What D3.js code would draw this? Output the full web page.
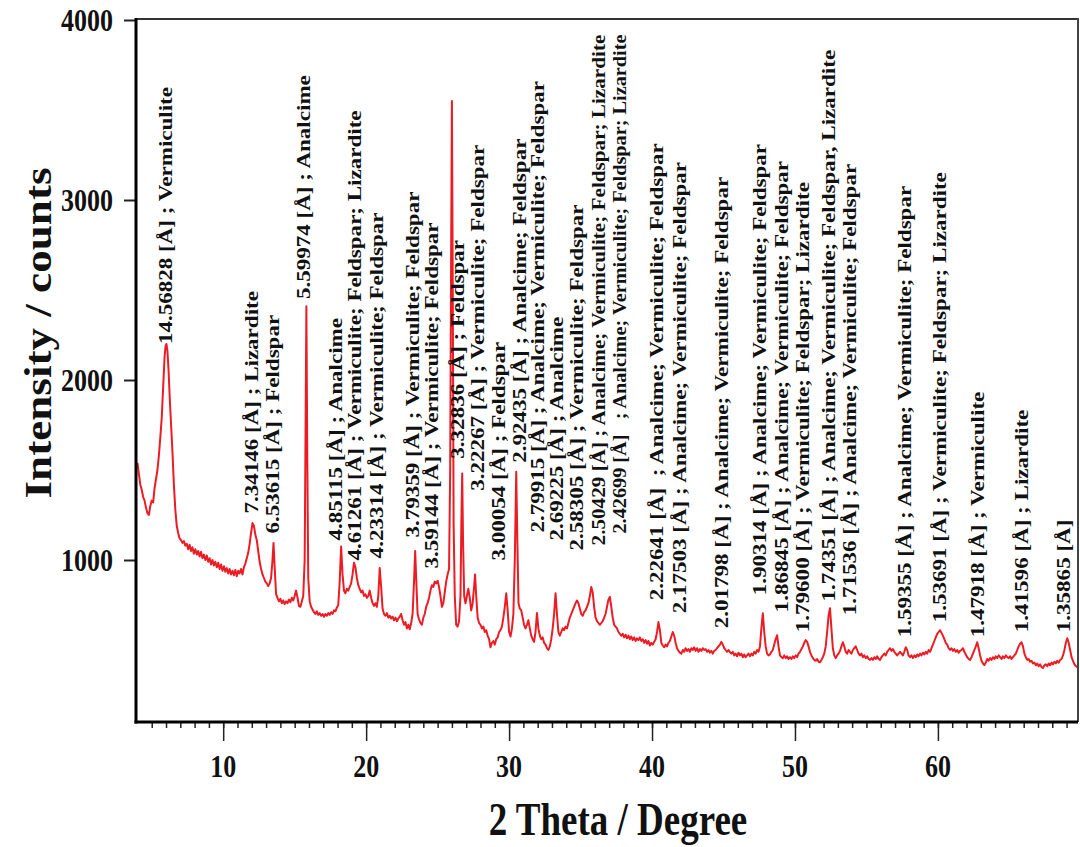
<!DOCTYPE html>
<html>
<head>
<meta charset="utf-8">
<script src="https://cdn.jsdelivr.net/npm/d3@7"></script>
<style>
  body { margin: 0; background: #fff; }
  svg text { font-family: "Liberation Serif", "Times New Roman", serif; font-weight: bold; fill: #111; }
</style>
</head>
<body>
<svg id="chart" width="1080" height="847"></svg>
<script>
// XRD pattern: [2theta (deg), intensity (counts)]
const xrdPattern = [
  [4.00,1540],[4.10,1480],[4.20,1420],[4.30,1390],[4.40,1350],[4.50,1330],[4.60,1290],[4.70,1260],[4.80,1250],[4.90,1300],
  [5.00,1330],[5.10,1320],[5.20,1400],[5.30,1450],[5.40,1500],[5.50,1580],[5.60,1680],[5.70,1790],[5.80,1960],[5.90,2130],
  [5.97,2190],[6.03,2200],[6.10,2160],[6.18,2050],[6.26,1900],[6.35,1760],[6.45,1600],[6.55,1420],[6.65,1280],[6.75,1190],
  [6.85,1150],[6.95,1120],[7.05,1110],[7.15,1095],[7.25,1105],[7.35,1080],[7.45,1090],
  [7.55,1060],[7.65,1085],[7.75,1050],[7.85,1070],[7.95,1035],[8.05,1060],[8.15,1030],[8.25,1050],[8.35,1020],[8.45,1045],
  [8.55,1010],[8.65,1030],[8.75,1000],[8.85,1025],[8.95,990],[9.05,1010],[9.15,975],[9.25,1000],[9.35,970],[9.45,990],
  [9.55,960],[9.65,985],[9.75,950],[9.85,975],[9.95,940],[10.05,965],[10.15,935],[10.25,955],[10.35,925],[10.45,950],
  [10.55,920],[10.65,940],[10.75,915],[10.85,945],[10.95,910],[11.05,940],[11.15,925],[11.25,950],[11.35,920],[11.45,960],
  [11.55,980],[11.65,1010],[11.75,1040],[11.85,1090],[11.95,1150],[12.05,1205],[12.15,1190],[12.25,1140],[12.35,1110],[12.45,1050],
  [12.55,990],[12.65,950],[12.75,920],[12.85,900],[12.95,880],[13.05,870],[13.15,855],[13.25,870],[13.35,900],[13.45,1000],
  [13.52,1095],[13.60,960],[13.70,810],[13.80,790],[13.90,770],[14.00,785],[14.10,760],[14.20,775],[14.30,755],[14.40,770],
  [14.50,760],[14.60,780],[14.70,765],[14.80,790],[14.90,775],[15.00,800],[15.10,830],[15.20,790],[15.30,745],[15.40,740],
  [15.50,770],[15.60,800],[15.70,1000],[15.76,1700],[15.82,2410],[15.88,1600],[15.95,900],[16.05,770],[16.15,740],[16.25,725],
  [16.35,710],[16.45,700],[16.55,715],[16.65,695],[16.75,705],[16.85,690],[16.95,700],[17.05,685],[17.15,700],[17.25,690],
  [17.35,705],[17.45,695],[17.55,710],[17.65,700],[17.75,720],[17.85,715],[17.95,735],[18.05,750],[18.15,880],[18.25,1075],
  [18.35,920],[18.45,830],[18.55,815],[18.65,840],[18.75,830],[18.85,850],[18.95,870],[19.05,920],[19.15,985],[19.25,960],
  [19.35,900],[19.45,860],[19.55,840],[19.65,820],[19.75,830],[19.85,800],[19.95,810],[20.05,790],[20.15,800],[20.25,830],
  [20.35,790],[20.45,760],[20.55,745],[20.65,760],[20.75,740],[20.85,800],[20.95,955],[21.05,850],[21.15,730],[21.25,700],
  [21.35,690],[21.45,705],[21.55,680],[21.65,690],[21.75,675],[21.85,685],[21.95,665],[22.05,680],[22.15,660],[22.25,675],
  [22.35,685],[22.45,700],[22.55,665],[22.65,640],[22.75,655],[22.85,620],[22.95,640],[23.05,615],[23.15,650],[23.25,700],
  [23.35,880],[23.43,1050],[23.50,900],[23.60,700],[23.70,670],[23.80,650],[23.90,640],[24.00,680],[24.10,700],[24.20,740],
  [24.30,760],[24.40,790],[24.50,830],[24.60,860],[24.70,850],[24.80,880],[24.90,870],[25.00,885],[25.10,850],[25.20,800],
  [25.30,740],[25.40,760],[25.50,820],[25.60,880],[25.70,920],[25.80,950],[25.88,1500],[25.94,2600],[26.00,3550],[26.06,2500],
  [26.12,1200],[26.20,800],[26.30,640],[26.40,630],[26.50,660],[26.60,800],[26.66,1200],[26.72,1480],[26.78,1100],[26.86,800],
  [26.95,760],[27.05,800],[27.15,840],[27.25,790],[27.35,720],[27.45,760],[27.55,850],[27.62,920],[27.70,800],[27.80,680],
  [27.90,650],[28.00,640],[28.10,620],[28.20,630],[28.30,600],[28.40,610],[28.50,580],[28.60,560],[28.70,515],[28.80,540],
  [28.90,550],[29.00,530],[29.10,560],[29.20,570],[29.30,600],[29.40,610],[29.50,630],[29.60,680],[29.70,740],[29.80,815],
  [29.90,720],[30.00,600],[30.10,575],[30.20,620],[30.30,700],[30.40,1000],[30.50,1490],[30.58,1100],[30.66,760],[30.75,730],
  [30.85,720],[30.95,680],[31.05,640],[31.15,620],[31.25,640],[31.35,665],[31.45,620],[31.55,580],[31.65,560],[31.75,545],
  [31.85,600],[31.95,705],[32.05,620],[32.15,580],[32.25,560],[32.35,570],[32.45,540],[32.55,530],[32.65,510],[32.75,500],
  [32.85,520],[32.95,560],[33.05,620],[33.15,700],[33.25,815],[33.35,700],[33.45,600],[33.55,580],[33.65,600],[33.75,620],
  [33.85,610],[33.95,630],[34.05,620],[34.15,650],[34.25,680],[34.35,700],[34.45,720],[34.55,740],[34.65,760],[34.75,775],
  [34.85,760],[34.95,730],[35.05,700],[35.15,690],[35.25,710],[35.35,720],[35.45,740],[35.55,760],[35.65,800],[35.75,850],
  [35.85,820],[35.95,740],[36.05,680],[36.15,660],[36.25,650],[36.35,640],[36.45,650],[36.55,660],[36.65,680],[36.75,700],
  [36.85,740],[36.95,780],[37.05,795],[37.15,740],[37.25,680],[37.35,640],[37.45,630],[37.55,620],[37.65,600],[37.75,590],
  [37.85,580],[37.95,590],[38.05,570],[38.15,585],[38.25,565],[38.35,580],[38.45,560],[38.55,575],[38.65,555],[38.75,570],
  [38.85,550],[38.95,565],[39.05,555],[39.15,570],[39.25,550],[39.35,560],[39.45,540],[39.55,555],[39.65,535],[39.75,550],
  [39.85,525],[39.95,540],[40.05,530],[40.15,545],[40.25,560],[40.35,600],[40.45,655],[40.55,610],[40.65,540],[40.75,525],
  [40.85,515],[40.95,530],[41.05,520],[41.15,540],[41.25,550],[41.35,575],[41.45,600],[41.55,580],[41.65,540],[41.75,510],
  [41.85,495],[41.95,485],[42.05,480],[42.15,500],[42.25,490],[42.35,510],[42.45,495],[42.55,505],[42.65,490],[42.75,510],
  [42.85,500],[42.95,515],[43.05,495],[43.15,510],[43.25,490],[43.35,505],[43.45,495],[43.55,510],[43.65,500],[43.75,505],
  [43.85,490],[43.95,500],[44.05,485],[44.15,495],[44.25,480],[44.35,495],[44.45,500],[44.55,510],[44.65,520],[44.75,530],
  [44.85,545],[44.95,530],[45.05,510],[45.15,500],[45.25,490],[45.35,500],[45.45,488],[45.55,480],[45.65,490],[45.75,470],
  [45.85,480],[45.95,465],[46.05,485],[46.15,470],[46.25,480],[46.35,460],[46.45,475],[46.55,460],[46.65,470],[46.75,480],
  [46.85,465],[46.95,480],[47.05,470],[47.15,490],[47.25,480],[47.35,500],[47.45,490],[47.55,520],[47.65,620],[47.75,704],
  [47.85,600],[47.95,520],[48.05,480],[48.15,470],[48.25,475],[48.35,490],[48.45,500],[48.55,530],[48.65,560],[48.75,582],
  [48.85,520],[48.95,470],[49.05,460],[49.15,455],[49.25,470],[49.35,455],[49.45,465],[49.55,450],[49.65,460],[49.75,450],
  [49.85,465],[49.95,455],[50.05,470],[50.15,460],[50.25,480],[50.35,490],[50.45,505],[50.55,520],[50.65,540],[50.75,555],
  [50.85,545],[50.95,520],[51.05,490],[51.15,470],[51.25,455],[51.35,445],[51.45,440],[51.55,450],[51.65,435],[51.75,432],
  [51.85,445],[51.95,460],[52.05,480],[52.15,520],[52.25,600],[52.35,690],[52.45,732],[52.55,620],[52.65,510],[52.75,470],
  [52.85,455],[52.95,470],[53.05,480],[53.15,495],[53.25,520],[53.35,543],[53.45,520],[53.55,490],[53.65,480],[53.75,500],
  [53.85,490],[53.95,480],[54.05,500],[54.15,510],[54.25,520],[54.35,500],[54.45,480],[54.55,470],[54.65,480],[54.75,460],
  [54.85,470],[54.95,455],[55.05,465],[55.15,450],[55.25,445],[55.35,455],[55.45,445],[55.55,460],[55.65,450],[55.75,465],
  [55.85,450],[55.95,445],[56.05,460],[56.15,470],[56.25,480],[56.35,470],[56.45,490],[56.55,500],[56.65,510],[56.75,495],
  [56.85,505],[56.95,490],[57.05,480],[57.15,470],[57.25,480],[57.35,490],[57.45,480],[57.55,470],[57.65,490],[57.75,515],
  [57.85,500],[57.95,470],[58.05,460],[58.15,470],[58.25,455],[58.35,470],[58.45,460],[58.55,475],[58.65,465],[58.75,480],
  [58.85,470],[58.95,485],[59.05,475],[59.15,490],[59.25,480],[59.35,500],[59.45,490],[59.55,510],[59.65,530],[59.75,550],
  [59.85,570],[59.95,590],[60.05,600],[60.15,610],[60.25,595],[60.35,580],[60.45,560],[60.55,540],[60.65,530],[60.75,510],
  [60.85,500],[60.95,510],[61.05,495],[61.15,505],[61.25,490],[61.35,500],[61.45,485],[61.55,495],[61.65,500],[61.75,510],
  [61.85,490],[61.95,475],[62.05,460],[62.15,450],[62.25,445],[62.35,460],[62.45,480],[62.55,500],[62.65,520],[62.75,543],
  [62.85,510],[62.95,470],[63.05,440],[63.15,425],[63.25,416],[63.35,430],[63.45,450],[63.55,440],[63.65,455],[63.75,445],
  [63.85,460],[63.95,450],[64.05,465],[64.15,455],[64.25,470],[64.35,460],[64.45,450],[64.55,465],[64.65,455],[64.75,470],
  [64.85,460],[64.95,455],[65.05,465],[65.15,450],[65.25,460],[65.35,470],[65.45,480],[65.55,500],[65.65,520],[65.75,535],
  [65.85,543],[65.95,520],[66.05,480],[66.15,460],[66.25,445],[66.35,450],[66.45,435],[66.55,440],[66.65,425],[66.75,430],
  [66.85,415],[66.95,425],[67.05,410],[67.15,420],[67.25,405],[67.35,400],[67.45,415],[67.55,420],[67.65,410],[67.75,425],
  [67.85,415],[67.95,430],[68.05,420],[68.15,435],[68.25,425],[68.35,440],[68.45,430],[68.55,445],[68.65,450],[68.75,470],
  [68.85,500],[68.95,540],[69.05,565],[69.15,540],[69.25,500],[69.35,460],[69.45,440],[69.55,420],[69.65,410],[69.75,405]
];

// peak annotations: text, 2theta where the label sits, intensity where it starts
const peakLabels = [
  "14.56828 [Å] ; Vermiculite",
  "7.34146 [Å] ; Lizardite",
  "6.53615 [Å] ; Feldspar",
  "5.59974 [Å] ; Analcime",
  "4.85115 [Å] ; Analcime",
  "4.61261 [Å] ; Vermiculite; Feldspar; Lizardite",
  "4.23314 [Å] ; Vermiculite; Feldspar",
  "3.79359 [Å] ; Vermiculite; Feldspar",
  "3.59144 [Å] ; Vermiculite; Feldspar",
  "3.32836 [Å] ; Feldspar",
  "3.22267 [Å] ; Vermiculite; Feldspar",
  "3.00054 [Å] ; Feldspar",
  "2.92435 [Å] ; Analcime; Feldspar",
  "2.79915 [Å] ; Analcime; Vermiculite; Feldspar",
  "2.69225 [Å] ; Analcime",
  "2.58305 [Å] ; Vermiculite; Feldspar",
  "2.50429 [Å] ; Analcime; Vermiculite; Feldspar; Lizardite",
  "2.42699 [Å]   ; Analcime; Vermiculite; Feldspar; Lizardite",
  "2.22641 [Å]  ; Analcime; Vermiculite; Feldspar",
  "2.17503 [Å] ; Analcime; Vermiculite; Feldspar",
  "2.01798 [Å] ; Analcime; Vermiculite; Feldspar",
  "1.90314 [Å] ; Analcime; Vermiculite; Feldspar",
  "1.86845 [Å] ; Analcime; Vermiculite; Feldspar",
  "1.79600 [Å] ; Vermiculite; Feldspar; Lizardite",
  "1.74351 [Å] ; Analcime; Vermiculite; Feldspar, Lizardite",
  "1.71536 [Å] ; Analcime; Vermiculite; Feldspar",
  "1.59355 [Å] ; Analcime; Vermiculite; Feldspar",
  "1.53691 [Å] ; Vermiculite; Feldspar; Lizardite",
  "1.47918 [Å] ; Vermiculite",
  "1.41596 [Å] ; Lizardite",
  "1.35865 [Å]"
];
const labelTheta = [5.96, 12.04, 13.51, 15.68, 17.85, 19.24, 20.78, 23.30, 24.63, 26.45,
  27.85, 29.31, 30.78, 32.04, 33.37, 34.77, 36.24, 37.78, 40.36, 41.97,
  44.91, 47.57, 49.10, 50.57, 52.39, 53.86, 57.71, 60.15, 62.81, 65.89, 68.83];
const labelStart = [2200, 1258, 1147, 2450, 1108, 997, 1009, 1125, 953, 1563,
  1385, 997, 1540, 1153, 1108, 1053, 1081, 1147, 776, 704,
  621, 804, 709, 599, 770, 693, 571, 654, 571, 599, 599];
const labelCeiling = 3920; // highest intensity a label may reach

const xMajorTicks = [10, 20, 30, 40, 50, 60];
const xMinorTicks = d3.range(5, 70, 1);
const yTicks = [1000, 2000, 3000, 4000];

const svg = d3.select("#chart");
const plotLeft = 136, plotRight = 1078, plotTop = 20, plotBottom = 722;
const labelStretch = 1.28;

const x = d3.scaleLinear().domain([3.9, 69.8]).range([plotLeft, plotRight]);
const y = d3.scaleLinear().domain([100, 4000]).range([plotBottom, plotTop]);

// pattern line
const line = d3.line().x(d => x(d[0])).y(d => y(d[1]));
svg.append("path")
  .datum(xrdPattern)
  .attr("fill", "none")
  .attr("stroke", "#ec1c24")
  .attr("stroke-width", 2)
  .attr("stroke-linejoin", "round")
  .attr("d", line);

// x ticks (minor + major), labels drawn separately so they can be stretched
const gx = svg.append("g").attr("transform", `translate(0,${plotBottom})`);
gx.append("g").call(d3.axisBottom(x).tickValues(xMinorTicks).tickSize(6).tickFormat(""))
  .call(g => g.select(".domain").remove())
  .selectAll("line").attr("stroke", "#222").attr("stroke-width", 1.5);
gx.append("g").call(d3.axisBottom(x).tickValues(xMajorTicks).tickSize(19).tickFormat(""))
  .call(g => g.select(".domain").remove())
  .selectAll("line").attr("stroke", "#222").attr("stroke-width", 1.5);

svg.append("g").selectAll("text")
  .data(xMajorTicks)
  .join("text")
  .attr("transform", d => `translate(${x(d)},${plotBottom + 55}) scale(1,1.25)`)
  .attr("text-anchor", "middle")
  .attr("font-size", 26)
  .text(d => d);

// y ticks
const gy = svg.append("g").attr("transform", `translate(${plotLeft},0)`);
gy.call(d3.axisLeft(y).tickValues(yTicks).tickSize(12).tickFormat(""))
  .call(g => g.select(".domain").remove())
  .selectAll("line").attr("stroke", "#222").attr("stroke-width", 2);

svg.append("g").selectAll("text")
  .data(yTicks)
  .join("text")
  .attr("transform", d => `translate(113,${y(d)}) scale(1,1.25)`)
  .attr("text-anchor", "end")
  .attr("dy", "0.35em")
  .attr("font-size", 26)
  .text(d => d);

// frame
svg.append("line").attr("x1", plotLeft).attr("x2", plotRight).attr("y1", plotTop - 1).attr("y2", plotTop - 1)
  .attr("stroke", "#333").attr("stroke-width", 2);
svg.append("line").attr("x1", plotRight).attr("x2", plotRight).attr("y1", plotTop - 2).attr("y2", plotBottom)
  .attr("stroke", "#444").attr("stroke-width", 2);
svg.append("line").attr("x1", plotLeft).attr("x2", plotLeft).attr("y1", plotTop - 2).attr("y2", plotBottom + 1.5)
  .attr("stroke", "#000").attr("stroke-width", 3);
svg.append("line").attr("x1", plotLeft - 1.5).attr("x2", plotRight).attr("y1", plotBottom).attr("y2", plotBottom)
  .attr("stroke", "#000").attr("stroke-width", 3);

// peak labels; the stretch along the text is reduced where a label would pass the ceiling
svg.append("g").selectAll("text")
  .data(peakLabels)
  .join("text")
  .attr("dominant-baseline", "central")
  .attr("font-size", 18)
  .style("white-space", "pre")
  .text(d => d)
  .each(function(d, i) {
    const room = y(labelStart[i]) - y(labelCeiling);
    const natural = this.getComputedTextLength();
    const k = Math.min(labelStretch, room / natural);
    d3.select(this).attr("transform",
      `translate(${x(labelTheta[i])},${y(labelStart[i])}) rotate(-90) scale(${k},1)`);
  });

// axis titles
svg.append("text")
  .attr("transform", `translate(618,835) scale(1,1.25)`)
  .attr("text-anchor", "middle")
  .attr("font-size", 37)
  .text("2 Theta / Degree");

svg.append("text")
  .attr("transform", `translate(38,333) rotate(-90) scale(1.22,1)`)
  .attr("text-anchor", "middle")
  .attr("dominant-baseline", "central")
  .attr("font-size", 37)
  .text("Intensity / counts");
</script>
</body>
</html>
